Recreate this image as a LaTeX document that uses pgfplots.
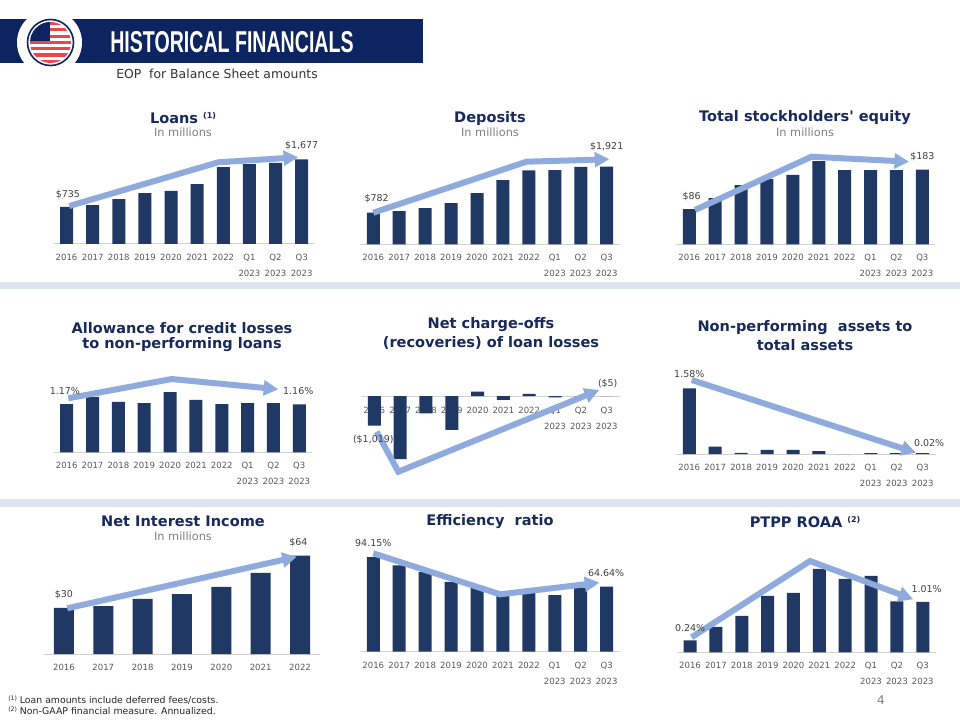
\documentclass[border=0pt]{standalone}
\usepackage{fontspec}
\setmainfont{DejaVu Sans}
\newfontfamily\headfont{Liberation Sans}
\usepackage{pgfplots}
\pgfplotsset{compat=1.18}
\usetikzlibrary{arrows.meta}

\definecolor{navyband}{HTML}{0C2560}
\definecolor{barblue}{HTML}{1F3864}
\definecolor{arrowblue}{HTML}{8FAADC}
\definecolor{sepblue}{HTML}{DCE3F1}
\definecolor{titleblue}{HTML}{172A5A}
\definecolor{tickgray}{HTML}{595959}
\definecolor{labgray}{HTML}{404040}
\definecolor{subgray}{HTML}{808080}
\definecolor{flagred}{HTML}{E5484D}

\newcommand\sups[1]{\raisebox{3.5pt}{\fontsize{6}{7}\selectfont #1}}

\pgfplotsset{
  fin/.style={
    scale only axis, clip=false, anchor=south west,
    axis x line=bottom, axis y line=none,
    x axis line style={-, draw=black!18, line width=0.75pt},
    xtick={0,...,9}, major tick length=0pt,
    xticklabels={2016,2017,2018,2019,2020,2021,2022,{Q1\\2023},{Q2\\2023},{Q3\\2023}},
    xticklabel style={font=\fontsize{6.4}{12}\selectfont, text=tickgray, align=center, inner sep=0pt, yshift=-7.3pt},
    xmin=-0.5, xmax=9.5, ymin=0,
  },
  bars/.style={ybar, bar width=9.75pt, fill=barblue, draw=none},
  trend/.style={draw=arrowblue, line width=4.5pt, -{Triangle[length=11pt,width=11pt]}, sharp plot, no markers},
}
\tikzset{
  dl/.style={font=\fontsize{7.1}{8}\selectfont, text=labgray, inner sep=0pt},
  ttl/.style={font=\fontsize{10.9}{13}\selectfont\bfseries, text=titleblue, inner sep=0pt},
  sub/.style={font=\fontsize{8.5}{10}\selectfont, text=subgray, inner sep=0pt},
}

\begin{document}
\begin{tikzpicture}[x=0.75pt,y=-0.75pt]
\useasboundingbox (0,0) rectangle (960,720);
\fill[white] (0,0) rectangle (960,720);

% header band and logo
\fill[navyband] (0,19) rectangle (423,63);
\begin{scope}
\clip (0,19) rectangle (120,75);
\fill[white] (49.5,42.5) circle[radius=32.5];
\end{scope}
\begin{scope}
\clip (50.5,42.5) circle[radius=20.5];
\fill[white] (29,21) rectangle (72,64);
\foreach \i in {0,...,6} {\fill[flagred] (29,{22+\i*6.3}) rectangle (72,{22+\i*6.3+3.15});}
\fill[navyband] (29,21) rectangle (50,41);
\end{scope}
\draw[navyband, line width=1.2pt] (50.5,42.5) circle[radius=23];
\node[text=white, anchor=west, inner sep=0pt] at (110,42.5) {\scalebox{0.65}[1]{\headfont\bfseries\fontsize{22.6}{24}\selectfont HISTORICAL FINANCIALS}};
\node[text=black!80, inner sep=0pt] at (217,74) {\fontsize{9.3}{11}\selectfont EOP\ \ for Balance Sheet amounts};

% separators
\fill[sepblue] (0,282) rectangle (960,289);
\fill[sepblue] (0,499) rectangle (960,507);

% titles
\node[ttl] at (183,118) {Loans \sups{(1)}};
\node[sub] at (183,132) {In millions};
\node[ttl] at (490,118) {Deposits};
\node[sub] at (490,132) {In millions};
\node[ttl] at (805,118) {Total stockholders\textquotesingle\ equity};
\node[sub] at (805,132) {In millions};
\node[ttl] at (182,328) {Allowance for credit losses};
\node[ttl] at (182,345) {to non-performing loans};
\node[ttl] at (491,325) {Net charge-offs};
\node[ttl] at (491,343) {(recoveries) of loan losses};
\node[ttl] at (805,328) {Non-performing\ \ assets to};
\node[ttl] at (805,345) {total assets};
\node[ttl] at (183,521) {Net Interest Income};
\node[sub] at (183,536) {In millions};
\node[ttl] at (490,522) {Efficiency\ \ ratio};
\node[ttl] at (805,522) {PTPP ROAA \sups{(2)}};

% 1 Loans
\begin{axis}[fin, at={(40.125pt,-183pt)}, width=195.9pt, height=82.5pt, ymax=2178]
\addplot[bars] coordinates {(0,735) (1,770) (2,887) (3,1005) (4,1050) (5,1185) (6,1520) (7,1580) (8,1605) (9,1677)};
\addplot[trend] coordinates {(0.105,752) (5.81,1618) (8.87,1717)};
\node[dl] at (axis cs:0.05,984) {\$735};
\node[dl] at (axis cs:9,1946) {\$1,677};
\end{axis}

% 2 Deposits
\begin{axis}[fin, at={(270.225pt,-183.225pt)}, width=194.55pt, height=82.5pt, ymax=2717]
\addplot[bars] coordinates {(0,782) (1,820) (2,895) (3,1016) (4,1262) (5,1582) (6,1828) (7,1830) (8,1915) (9,1921)};
\addplot[trend] coordinates {(0.0,781) (5.91,2040) (9.10,2100)};
\node[dl] at (axis cs:0.13,1119) {\$782};
\node[dl] at (axis cs:9,2411) {\$1,921};
\end{axis}

% 3 Equity
\begin{axis}[fin, at={(507.225pt,-183.225pt)}, width=194.25pt, height=82.5pt, ymax=269.5]
\addplot[bars] coordinates {(0,86) (1,113) (2,145) (3,160) (4,170) (5,204) (6,182) (7,182) (8,182) (9,183)};
\addplot[trend] coordinates {(0.22,84) (4.72,214.6) (8.49,202.4)};
\node[dl] at (axis cs:0.09,116.6) {\$86};
\node[dl] at (axis cs:9,214.6) {\$183};
\end{axis}

% 4 Allowance
\begin{axis}[fin, at={(40.35pt,-339.225pt)}, width=193.8pt, height=60pt, ymax=1.938]
\addplot[bars] coordinates {(0,1.17) (1,1.34) (2,1.22) (3,1.19) (4,1.46) (5,1.27) (6,1.17) (7,1.19) (8,1.19) (9,1.16)};
\addplot[trend] coordinates {(0.06,1.308) (4.06,1.775) (8.19,1.526)};
\node[dl] at (axis cs:-0.07,1.492) {1.17\%};
\node[dl] at (axis cs:8.96,1.492) {1.16\%};
\end{axis}

% 5 Net charge-offs
\begin{axis}[fin, at={(271.05pt,-357pt)}, width=193.65pt, height=75pt, ymin=-2744, ymax=686,
  x axis line style={draw=none}, xticklabel style={yshift=58.8pt}]
\draw[black!18, line width=0.75pt] (axis cs:-0.5,0) -- (axis cs:9.5,0);
\addplot[bars] coordinates {(0,-1019) (1,-2161) (2,-593) (3,-1166) (4,147) (5,-137) (6,69) (7,-50) (8,-15) (9,-5)};
\addplot[trend] coordinates {(0.09,-1225) (0.93,-2597) (8.71,206)};
\node[dl] at (axis cs:-0.04,-1485) {(\$1,019)};
\node[dl] at (axis cs:9.04,436) {(\$5)};
\end{axis}

% 6 Non-performing assets
\begin{axis}[fin, at={(507.225pt,-340.5pt)}, width=194.5pt, height=67.5pt, ymax=2.1645]
\addplot[bars] coordinates {(0,1.58) (1,0.18) (2,0.03) (3,0.10) (4,0.10) (5,0.07) (6,0) (7,0.02) (8,0.02) (9,0.02)};
\addplot[trend] coordinates {(0.09,1.78) (8.74,0.031)};
\node[dl] at (axis cs:0,1.924) {1.58\%};
\node[dl] at (axis cs:9.25,0.272) {0.02\%};
\end{axis}

% 7 Net interest income
\begin{axis}[fin, at={(33.225pt,-490.5pt)}, width=206.55pt, height=90pt, ymax=78,
  xmax=6.5, xtick={0,...,6}, xticklabels={2016,2017,2018,2019,2020,2021,2022}]
\addplot[bars, bar width=15pt] coordinates {(0,30) (1,31.2) (2,35.8) (3,39) (4,43.6) (5,52.7) (6,64)};
\addplot[trend] coordinates {(0.085,29.7) (5.92,63.2)};
\node[dl] at (axis cs:0,38.8) {\$30};
\node[dl] at (axis cs:5.96,72.3) {\$64};
\end{axis}

% 8 Efficiency ratio
\begin{axis}[fin, at={(270.225pt,-488.775pt)}, width=194.5pt, height=90pt, ymax=119.4]
\addplot[bars] coordinates {(0,94.15) (1,85.9) (2,79.3) (3,69.4) (4,63.8) (5,56.2) (6,58.5) (7,56.2) (8,63.8) (9,64.64)};
\addplot[trend] coordinates {(0,97.9) (4.89,57.1) (8.72,68.7)};
\node[dl] at (axis cs:0,107.9) {94.15\%};
\node[dl] at (axis cs:8.98,78.6) {64.64\%};
\end{axis}

% 9 PTPP ROAA
\begin{axis}[fin, at={(507.825pt,-489.225pt)}, width=193.95pt, height=82.5pt, ymax=2.2]
\addplot[bars] coordinates {(0,0.24) (1,0.51) (2,0.73) (3,1.13) (4,1.19) (5,1.67) (6,1.47) (7,1.53) (8,1.02) (9,1.01)};
\addplot[trend] coordinates {(0.06,0.30) (4.64,1.826) (8.63,1.06)};
\node[dl] at (axis cs:0,0.492) {0.24\%};
\node[dl] at (axis cs:9.15,1.26) {1.01\%};
\end{axis}

% footnotes and page number
\node[anchor=west, inner sep=0pt, text=black!85] at (8,700) {\fontsize{7}{8}\selectfont\raisebox{2pt}{\fontsize{4.6}{5}\selectfont(1)}\ Loan amounts include deferred fees/costs.};
\node[anchor=west, inner sep=0pt, text=black!85] at (8,710.5) {\fontsize{7}{8}\selectfont\raisebox{2pt}{\fontsize{4.6}{5}\selectfont(2)}\ Non-GAAP financial measure. Annualized.};
\node[text=subgray, inner sep=0pt] at (881,700) {\fontsize{9}{10}\selectfont 4};
\end{tikzpicture}
\end{document}
